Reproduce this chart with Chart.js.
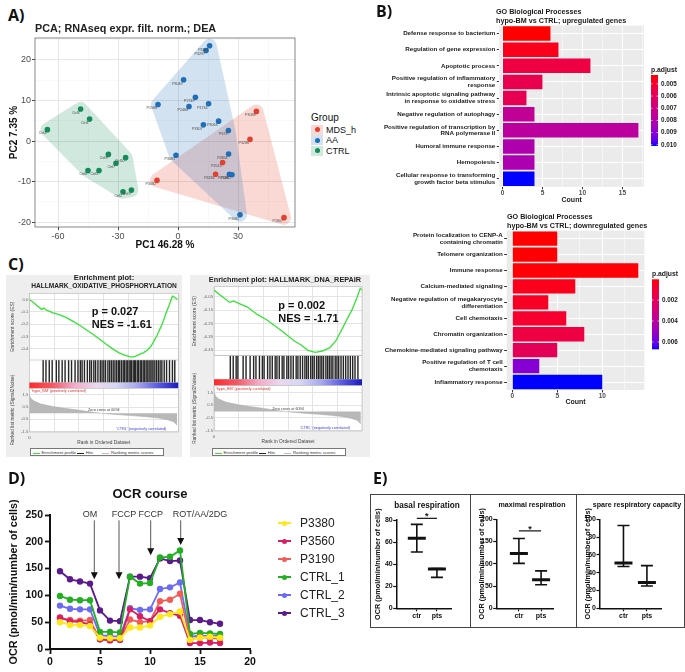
<!DOCTYPE html>
<html>
<head>
<meta charset="utf-8">
<title>hypo-BM figure</title>
<script src="https://cdn.jsdelivr.net/npm/chart.js@4.4.1/dist/chart.umd.min.js"></script>
<style>
  body { margin:0; width:685px; height:672px; position:relative; overflow:hidden; background:#fff; font-family:"Liberation Sans", Arial, sans-serif; color:#111; }
  canvas, .t, .box { position:absolute; }
  .t { white-space:nowrap; }
  .tag { font-family:"Open Sans", sans-serif; font-weight:bold; font-size:16px; line-height:20px; color:#111; }
  .gotitle { font-size:7.2px; font-weight:bold; line-height:9px; color:#1a1a1a; }
  .key { position:absolute; width:12px; height:10px; }
  .key i { position:absolute; left:3.5px; top:2.5px; width:5px; height:5px; border-radius:50%; }
  .gbox { position:absolute; background:#eeeeee; }
  .gtitle { font-weight:bold; color:#222; text-align:center; }
  .stat { font-size:11px; font-weight:bold; line-height:13px; color:#111; }
  .glegend { position:absolute; height:8px; border:0.6px solid #777; background:#fff; font-size:4.3px; line-height:7px; color:#333; padding-left:2px; box-sizing:border-box; white-space:nowrap; }
  .glegend b { display:inline-block; width:7px; height:0.8px; vertical-align:middle; margin-right:1.5px; }
  .etitle { font-weight:bold; color:#111; text-align:center; }
</style>
</head>
<body>

<!-- A -->
<canvas id="pca" width="300" height="222" style="left:0;top:30px"></canvas>
<div class="t tag" style="left:8px;top:5px">A)</div>
<div class="t" style="left:35px;top:22px;font-size:10.8px;font-weight:bold;line-height:12px;color:#222">PCA; RNAseq expr. filt. norm.; DEA</div>
<div class="t" style="left:311px;top:112px;font-size:10px;line-height:12px">Group</div>
<div class="key" style="left:311px;top:124.5px;background:rgba(228,64,46,.2)"><i style="background:#e4402e"></i></div>
<div class="t" style="left:326px;top:124.5px;font-size:9px;line-height:10px">MDS_h</div>
<div class="key" style="left:311px;top:135px;background:rgba(31,111,184,.2)"><i style="background:#1f6fb8"></i></div>
<div class="t" style="left:326px;top:135px;font-size:9px;line-height:10px">AA</div>
<div class="key" style="left:311px;top:145.5px;background:rgba(21,138,90,.2)"><i style="background:#158a5a"></i></div>
<div class="t" style="left:326px;top:145.5px;font-size:9px;line-height:10px">CTRL</div>

<!-- B -->
<canvas id="goUp" width="340" height="203" style="left:345px;top:5px"></canvas>
<canvas id="goDown" width="340" height="200" style="left:345px;top:210px"></canvas>
<div class="t tag" style="left:376px;top:1px">B)</div>
<div class="t gotitle" style="left:496px;top:6.5px">GO Biological Processes<br>hypo-BM vs CTRL; upregulated genes</div>
<div class="t gotitle" style="left:507px;top:211.5px">GO Biological Processes<br>hypo-BM vs CTRL; downregulated genes</div>

<!-- C -->
<div class="gbox" style="left:6px;top:275px;width:176px;height:182px"></div>
<div class="gbox" style="left:190px;top:275px;width:180px;height:182px"></div>
<canvas id="esOx" width="176" height="76" style="left:6px;top:288px"></canvas>
<canvas id="hitOx" width="176" height="29" style="left:6px;top:360px"></canvas>
<canvas id="metOx" width="176" height="76" style="left:6px;top:370px"></canvas>
<canvas id="esDna" width="180" height="78" style="left:190px;top:282px"></canvas>
<canvas id="hitDna" width="180" height="31" style="left:190px;top:355px"></canvas>
<canvas id="metDna" width="180" height="78" style="left:190px;top:368px"></canvas>
<div class="t tag" style="left:8px;top:254px">C)</div>
<div class="t gtitle" style="left:29px;top:274px;width:150px;font-size:7.6px;line-height:8.4px">Enrichment plot:<br><span style="font-size:6.6px">HALLMARK_OXIDATIVE_PHOSPHORYLATION</span></div>
<div class="t gtitle" style="left:200px;top:274.5px;width:170px;font-size:7.3px;line-height:9px">Enrichment plot: HALLMARK_DNA_REPAIR</div>
<div class="t stat" style="left:91.7px;top:305px">p = 0.027<br>NES = -1.61</div>
<div class="t stat" style="left:278.3px;top:299.4px;line-height:12.6px">p = 0.002<br>NES = -1.71</div>
<div class="glegend" style="left:30px;top:448.3px;width:134px"><b style="background:#36e336"></b>Enrichment profile <b style="background:#222"></b>Hits <b style="background:#bbb;margin-left:8px"></b>Ranking metric scores</div>
<div class="glegend" style="left:212px;top:448.3px;width:134px"><b style="background:#36e336"></b>Enrichment profile <b style="background:#222"></b>Hits <b style="background:#bbb;margin-left:8px"></b>Ranking metric scores</div>

<!-- D -->
<canvas id="ocr" width="270" height="182" style="left:0;top:490px"></canvas>
<div class="t tag" style="left:8px;top:468px">D)</div>
<div class="t" style="left:100px;top:486px;width:100px;text-align:center;font-size:13px;font-weight:bold;line-height:16px">OCR course</div>
<div id="ocrLegend"></div>

<!-- E -->
<div class="box" style="left:370px;top:494px;width:313px;height:132px;border:1px solid #444"></div>
<div class="box" style="left:470px;top:494px;width:1px;height:134px;background:#444"></div>
<div class="box" style="left:576px;top:494px;width:1px;height:134px;background:#444"></div>
<canvas id="basal" width="99" height="131" style="left:371px;top:495px"></canvas>
<canvas id="maximal" width="104" height="131" style="left:472px;top:495px"></canvas>
<canvas id="spare" width="106" height="131" style="left:578px;top:495px"></canvas>
<div class="t tag" style="left:373px;top:468px">E)</div>
<div class="t etitle" style="left:386px;top:501px;width:82px;font-size:8.2px;line-height:10px">basal respiration</div>
<div class="t etitle" style="left:487px;top:500px;width:90px;font-size:7.1px;line-height:10px">maximal respiration</div>
<div class="t etitle" style="left:590px;top:500px;width:94px;font-size:7.1px;line-height:10px">spare respiratory capacity</div>

<script>
// ---------- A) PCA ----------
const pcaXTicks = [-60, -30, 0, 30];
const pcaYTicks = [-20, -10, 0, 10, 20];
const mdsNames = ['P3088', 'P3286', 'P2513', 'P3336', 'P3082', 'P1807'];
const mdsPC1 = [39.2, 36, 22.3, 18.8, -10.5, 53];
const mdsPC2 = [7.3, 0.4, -5.3, -8.2, -9.7, -18.9];
const aaNames = ['P3301', 'P3297', 'P3049', 'P1588', 'P2749', 'P2468', 'P1733', 'P3063', 'P3307', 'P673', 'P3083', 'P2864', 'P2186', 'P1861', 'P3081'];
const aaPC1 = [15.8, 14, 2.8, -10, 8.7, 5.5, 15.3, 20.3, 12.7, 25.2, -1, 25.3, 25.7, 27, 31];
const aaPC2 = [23.5, 22.3, 15.1, 9.0, 10.8, 8.5, 9.2, 4.9, 4.0, 2.6, -3.5, -3.2, -8.2, -8.3, -18.2];
const ctrlNames = ['Ctrl4', 'Ctrl3', 'Ctrl1', 'Ctrl8', 'Ctrl10', 'Ctrl7', 'Ctrl6', 'Ctrl5', 'Ctrl2', 'Ctrl9'];
const ctrlPC1 = [-65.3, -48.7, -44.2, -34.8, -26.2, -31, -45, -39.5, -27.5, -23.3];
const ctrlPC2 = [2.8, 7.9, 5.4, -3.3, -4.1, -5.5, -7.3, -7.3, -12.5, -12.1];

// ---------- B) GO enrichment ----------
const countTicks = [0, 5, 10, 15];
const upTerms = [
  'Defense response to bacterium',
  'Regulation of gene expression',
  'Apoptotic process',
  ['Positive regulation of inflammatory', 'response'],
  ['Intrinsic apoptotic signaling pathway', 'in response to oxidative stress'],
  'Negative regulation of autophagy',
  ['Positive regulation of transcription by', 'RNA polymerase II'],
  'Humoral immune response',
  'Hemopoiesis',
  ['Cellular response to transforming', 'growth factor beta stimulus']
];
const upCount = [6, 7, 11, 5, 3, 4, 17, 4, 4, 4];
const upPadj = [0.00427, 0.0046, 0.0054, 0.0057, 0.0058, 0.0075, 0.0077, 0.0081, 0.0082, 0.0101];
const upPadjTicks = [0.005, 0.006, 0.007, 0.008, 0.009, 0.010];
const downTerms = [
  ['Protein localization to CENP-A', 'containing chromatin'],
  'Telomere organization',
  'Immune response',
  'Calcium-mediated signaling',
  ['Negative regulation of megakaryocyte', 'differentiation'],
  'Cell chemotaxis',
  'Chromatin organization',
  'Chemokine-mediated signaling pathway',
  ['Positive regulation of T cell', 'chemotaxis'],
  'Inflammatory response'
];
const downCount = [5, 5, 14, 7, 4, 6, 8, 5, 3, 10];
const downPadj = [0.00002, 0.00004, 0.00008, 0.0004, 0.0006, 0.0008, 0.0013, 0.0019, 0.0055, 0.0067];
const downPadjTicks = [0.002, 0.004, 0.006];

// ---------- C) GSEA ----------
const rankMax = 12700;
const oxRank = [0, 300, 620, 1050, 1250, 1470, 2030, 2600, 3170, 3700, 4300, 4850, 5420, 6000, 6560, 7100, 7690, 8200, 8680, 9050, 9380, 9750, 10090, 10400, 10650, 10900, 11080, 11300, 11500, 11700, 11920, 12080, 12200, 12430, 12630];
const oxES = [0, -0.02, -0.046, -0.08, -0.07, -0.087, -0.109, -0.125, -0.147, -0.175, -0.209, -0.245, -0.282, -0.322, -0.363, -0.40, -0.434, -0.452, -0.466, -0.46, -0.445, -0.43, -0.407, -0.375, -0.331, -0.29, -0.25, -0.205, -0.154, -0.10, -0.046, -0.005, 0.027, 0.016, 0];
const oxHits = [1180, 1420, 1700, 1950, 2300, 2520, 2800, 3050, 3350, 3600, 3900, 4150, 4350, 4500, 4700, 4950, 5150, 5300, 5500, 5650, 5850, 6050, 6200, 6350, 6500, 6700, 6850, 7000, 7150, 7300, 7450, 7600, 7700, 7850, 8000, 8100, 8250, 8350, 8500, 8600, 8700, 8850, 8950, 9050, 9200, 9300, 9450, 9550, 9700, 9800, 9950, 10050, 10200, 10300, 10450, 10550, 10700, 10850, 11000, 11150, 11300, 11500, 11700, 11950, 12200, 12400];
const dnaRank = [0, 520, 1100, 1330, 1680, 2115, 2840, 3710, 4580, 5740, 6900, 7480, 8060, 8700, 9300, 9940, 10450, 11000, 11400, 11830, 12260, 12550, 12700];
const dnaES = [0, -0.0375, -0.075, -0.092, -0.082, -0.1, -0.125, -0.182, -0.225, -0.30, -0.38, -0.41, -0.45, -0.465, -0.455, -0.43, -0.38, -0.29, -0.22, -0.15, -0.06, 0.0125, 0];
const dnaHits = [1400, 1650, 1900, 2050, 2500, 2750, 3100, 3400, 3600, 3900, 4150, 4300, 4600, 4800, 5000, 5250, 5400, 5600, 5850, 6000, 6250, 6400, 6600, 6800, 7050, 7200, 7400, 7600, 7800, 7950, 8100, 8300, 8450, 8600, 8800, 8950, 9100, 9250, 9400, 9600, 9750, 9900, 10050, 10200, 10400, 10550, 10700, 10900, 11100, 11300, 11500, 11700, 11900, 12100, 12350];
const metricRank = [0, 150, 400, 1000, 2000, 3000, 4000, 5000, 6094, 7000, 8000, 9000, 10000, 11000, 11800, 12300, 12600];
const metricVal = [1.5, 1.2, 1.0, 0.75, 0.55, 0.4, 0.28, 0.14, 0, -0.08, -0.15, -0.22, -0.3, -0.4, -0.55, -0.7, -1.0];
const rankTicks = [0, 2000, 4000, 6000, 8000, 10000, 12000];

// ---------- D) OCR course ----------
const ocrTime = [1, 2, 3, 4, 5, 6, 7, 8, 9, 10, 11, 12, 13, 14, 15, 16, 17];
const ocrNames = ['P3380', 'P3560', 'P3190', 'CTRL_1', 'CTRL_2', 'CTRL_3'];
const p3380 = [50, 45, 45, 43, 21, 20, 20, 40, 40, 44, 60, 65, 70, 17, 21, 23, 21];
const p3560 = [59, 52, 50, 46, 18, 16, 17, 74, 61, 52, 74, 67, 62, 11, 11, 12, 11];
const p3190 = [58, 54, 53, 54, 18, 17, 18, 55, 50, 52, 89, 92, 103, 17, 22, 21, 19];
const ctrl1 = [99, 92, 91, 91, 32, 32, 31, 135, 122, 123, 171, 172, 184, 28, 30, 29, 28];
const ctrl2 = [81, 75, 74, 74, 26, 24, 23, 76, 73, 74, 112, 115, 124, 23, 25, 24, 25];
const ctrl3 = [145, 130, 126, 122, 72, 53, 52, 135, 135, 132, 169, 164, 165, 54, 54, 50, 47];
const injLabels = ['OM', 'FCCP', 'FCCP', 'ROT/AA/2DG'];
const injX = [4.43, 6.9, 10.07, 13.07];
const injTip = [130, 130, 175, 194];
const injLabelX = [4.0, 7.4, 10.08, 15.0];

// ---------- E) respiration summaries ----------
const respLabels = ['ctr', 'pts'];
const basalMean = [63.5, 35.5], basalLow = [51, 28], basalHigh = [76, 36];
const maxMean = [123, 64], maxLow = [101, 53], maxHigh = [157, 84];
const spareMean = [51, 29], spareLow = [47, 25], spareHigh = [93, 48];

// ---------- shared setup ----------
Chart.defaults.font.family = '"Liberation Sans", Arial, sans-serif';
Chart.defaults.color = '#333';
Chart.defaults.animation = false;
Chart.defaults.events = [];
Chart.defaults.plugins.legend.display = false;
Chart.defaults.plugins.tooltip.enabled = false;

const groupColors = ['#e4402e', '#1f6fb8', '#158a5a'];
const ocrColors = ['#ffe81a', '#d81f63', '#f25c54', '#22b022', '#6b6bf5', '#5c1a8c'];

// ggplot style red->blue gradient, interpolated in Lab
function toLab(rgb) {
  const f = c => { c /= 255; return c <= 0.04045 ? c / 12.92 : Math.pow((c + 0.055) / 1.055, 2.4); };
  const r = f(rgb[0]), g = f(rgb[1]), b = f(rgb[2]);
  const h = t => t > 0.008856 ? Math.cbrt(t) : 7.787 * t + 16 / 116;
  const X = h((0.4124 * r + 0.3576 * g + 0.1805 * b) / 0.95047);
  const Y = h(0.2126 * r + 0.7152 * g + 0.0722 * b);
  const Z = h((0.0193 * r + 0.1192 * g + 0.9505 * b) / 1.08883);
  return [116 * Y - 16, 500 * (X - Y), 200 * (Y - Z)];
}
function fromLab(L) {
  const Y0 = (L[0] + 16) / 116, X0 = L[1] / 500 + Y0, Z0 = Y0 - L[2] / 200;
  const h = t => t * t * t > 0.008856 ? t * t * t : (t - 16 / 116) / 7.787;
  const X = h(X0) * 0.95047, Y = h(Y0), Z = h(Z0) * 1.08883;
  const r = 3.2406 * X - 1.5372 * Y - 0.4986 * Z;
  const g = -0.9689 * X + 1.8758 * Y + 0.0415 * Z;
  const b = 0.0557 * X - 0.2040 * Y + 1.0570 * Z;
  const k = c => Math.round(255 * Math.min(1, Math.max(0, c <= 0.0031308 ? 12.92 * c : 1.055 * Math.pow(c, 1 / 2.4) - 0.055)));
  return 'rgb(' + k(r) + ',' + k(g) + ',' + k(b) + ')';
}
const LAB_RED = toLab([255, 0, 0]), LAB_BLUE = toLab([0, 0, 255]);
function padjColor(p, lo, hi) {
  const t = Math.min(1, Math.max(0, (p - lo) / (hi - lo)));
  return fromLab(LAB_RED.map((v, i) => v + (LAB_BLUE[i] - v) * t));
}

function convexHull(points) {
  const pts = points.slice().sort((a, b) => a[0] - b[0] || a[1] - b[1]);
  const cross = (o, a, b) => (a[0] - o[0]) * (b[1] - o[1]) - (a[1] - o[1]) * (b[0] - o[0]);
  const lower = [], upper = [];
  for (const p of pts) {
    while (lower.length >= 2 && cross(lower[lower.length - 2], lower[lower.length - 1], p) <= 0) lower.pop();
    lower.push(p);
  }
  for (let i = pts.length - 1; i >= 0; i--) {
    const p = pts[i];
    while (upper.length >= 2 && cross(upper[upper.length - 2], upper[upper.length - 1], p) <= 0) upper.pop();
    upper.push(p);
  }
  upper.pop(); lower.pop();
  return lower.concat(upper);
}

// shaded group hulls behind the PCA points
const hullPlugin = {
  id: 'hulls',
  beforeDatasetsDraw(chart) {
    const { ctx, chartArea: a } = chart;
    chart.data.datasets.forEach((ds, i) => {
      const hull = convexHull(chart.getDatasetMeta(i).data.map(p => [p.x, p.y]));
      const off = document.createElement('canvas');
      off.width = chart.width; off.height = chart.height;
      const o = off.getContext('2d');
      o.fillStyle = o.strokeStyle = ds.backgroundColor;
      o.lineWidth = 14; o.lineJoin = 'round';
      o.beginPath();
      hull.forEach((p, k) => k ? o.lineTo(p[0], p[1]) : o.moveTo(p[0], p[1]));
      o.closePath(); o.fill(); o.stroke();
      ctx.save();
      ctx.beginPath(); ctx.rect(a.left, a.top, a.width, a.height); ctx.clip();
      ctx.globalAlpha = 0.2;
      ctx.drawImage(off, 0, 0);
      ctx.restore();
    });
  }
};

const pointNames = {
  id: 'pointNames',
  afterDatasetsDraw(chart) {
    const ctx = chart.ctx;
    ctx.save();
    ctx.font = '3.6px "Liberation Sans"';
    ctx.fillStyle = '#444';
    ctx.textAlign = 'right';
    ctx.textBaseline = 'top';
    chart.data.datasets.forEach((ds, i) => {
      chart.getDatasetMeta(i).data.forEach((pt, k) => ctx.fillText(ds.data[k].name, pt.x - 1, pt.y + 2));
    });
    ctx.restore();
  }
};

const panelBorder = {
  id: 'panelBorder',
  afterDraw(chart, args, opts) {
    const { ctx, chartArea: a } = chart;
    ctx.save();
    ctx.strokeStyle = opts.color || '#444';
    ctx.lineWidth = opts.width || 0.7;
    ctx.strokeRect(a.left, a.top, a.width, a.height);
    ctx.restore();
  }
};

const panelBg = {
  id: 'panelBg',
  beforeDraw(chart, args, opts) {
    const { ctx, chartArea: a } = chart;
    ctx.save();
    ctx.fillStyle = opts.color || '#ebebeb';
    ctx.fillRect(a.left, a.top, a.width, a.height);
    ctx.restore();
  }
};

// p.adjust colour bar legend
const colorbarPlugin = {
  id: 'colorbar',
  afterDraw(chart, args, opts) {
    const ctx = chart.ctx;
    const { x, w, top, bottom, lo, hi, ticks } = opts;
    ctx.save();
    const g = ctx.createLinearGradient(0, top, 0, bottom);
    for (let i = 0; i <= 20; i++) g.addColorStop(i / 20, padjColor(lo + (hi - lo) * i / 20, lo, hi));
    ctx.fillStyle = g;
    ctx.fillRect(x, top, w, bottom - top);
    ctx.font = 'bold 6.3px "Liberation Sans"';
    ctx.textBaseline = 'middle';
    ctx.textAlign = 'left';
    ticks.forEach(t => {
      const y = top + (t - lo) / (hi - lo) * (bottom - top);
      ctx.strokeStyle = '#fff'; ctx.lineWidth = 0.6;
      ctx.beginPath(); ctx.moveTo(x, y); ctx.lineTo(x + 1.5, y); ctx.moveTo(x + w - 1.5, y); ctx.lineTo(x + w, y); ctx.stroke();
      ctx.fillStyle = '#1a1a1a';
      ctx.fillText(t.toFixed(3), x + w + 3, y);
    });
    ctx.font = 'bold 6.8px "Liberation Sans"';
    ctx.fillText('p.adjust', x, top - 5);
    ctx.restore();
  }
};

// ---------- A chart ----------
const pcaPoints = (names, xs, ys) => names.map((n, i) => ({ x: xs[i], y: ys[i], name: n }));
new Chart(document.getElementById('pca'), {
  type: 'scatter',
  data: {
    datasets: [
      { label: 'MDS_h', data: pcaPoints(mdsNames, mdsPC1, mdsPC2), backgroundColor: groupColors[0] },
      { label: 'AA', data: pcaPoints(aaNames, aaPC1, aaPC2), backgroundColor: groupColors[1] },
      { label: 'CTRL', data: pcaPoints(ctrlNames, ctrlPC1, ctrlPC2), backgroundColor: groupColors[2] }
    ]
  },
  options: {
    responsive: false,
    layout: { padding: { top: 8, right: 5, left: 0, bottom: 0 } },
    elements: { point: { radius: 2.8, borderWidth: 0 } },
    scales: {
      x: {
        min: -71.5, max: 58.5,
        ticks: { stepSize: 15, includeBounds: false, autoSkip: false, maxRotation: 0, padding: 1, font: { size: 9 }, color: '#4d4d4d',
                 callback: v => pcaXTicks.includes(v) ? v : '' },
        grid: { color: c => pcaXTicks.includes(c.tick.value) ? '#e3e3e3' : '#f2f2f2', lineWidth: c => pcaXTicks.includes(c.tick.value) ? 0.9 : 0.5,
                tickLength: 3, tickColor: c => pcaXTicks.includes(c.tick.value) ? '#333' : 'rgba(0,0,0,0)' },
        border: { display: false },
        title: { display: true, text: 'PC1 46.28 %', font: { size: 10, weight: 'bold' }, color: '#111', padding: { top: 0, bottom: 1 } },
        afterFit: s => { s.height = 25; }
      },
      y: {
        min: -21.2, max: 25.4,
        ticks: { stepSize: 5, includeBounds: false, autoSkip: false, padding: 1, font: { size: 9 }, color: '#4d4d4d',
                 callback: v => pcaYTicks.includes(v) ? v : '' },
        grid: { color: c => pcaYTicks.includes(c.tick.value) ? '#e3e3e3' : '#f2f2f2', lineWidth: c => pcaYTicks.includes(c.tick.value) ? 0.9 : 0.5,
                tickLength: 3, tickColor: c => pcaYTicks.includes(c.tick.value) ? '#333' : 'rgba(0,0,0,0)' },
        border: { display: false },
        title: { display: true, text: 'PC2 7.35 %', font: { size: 10, weight: 'bold' }, color: '#111', padding: { top: 8, bottom: 0 } },
        afterFit: s => { s.width = 35; }
      }
    },
    plugins: { panelBorder: { color: '#555', width: 0.7 } }
  },
  plugins: [hullPlugin, pointNames, panelBorder]
});

// ---------- B charts ----------
function goChart(id, terms, counts, padj, padjTicks, xMin, xMax, axisW, padTop, padRight, xHeight, bar) {
  const lo = Math.min(...padj), hi = Math.max(...padj);
  return new Chart(document.getElementById(id), {
    type: 'bar',
    data: {
      labels: terms,
      datasets: [{ data: counts, backgroundColor: padj.map(p => padjColor(p, lo, hi)), barPercentage: 0.9, categoryPercentage: 1 }]
    },
    options: {
      responsive: false,
      indexAxis: 'y',
      layout: { padding: { top: padTop, right: padRight, left: 0, bottom: 0 } },
      scales: {
        x: {
          type: 'linear', min: xMin, max: xMax, offset: false,
          ticks: { stepSize: 2.5, includeBounds: false, autoSkip: false, maxRotation: 0, padding: 0, font: { size: 6.5, weight: 'bold' }, color: '#4d4d4d',
                   callback: v => countTicks.includes(v) ? v : '' },
          grid: { color: '#fff', lineWidth: c => countTicks.includes(c.tick.value) ? 1 : 0.5, tickLength: 2.5,
                  tickColor: c => countTicks.includes(c.tick.value) ? '#333' : 'rgba(0,0,0,0)' },
          border: { display: false },
          title: { display: true, text: 'Count', font: { size: 7, weight: 'bold' }, color: '#1a1a1a', padding: { top: 0, bottom: 3.8 } },
          afterFit: s => { s.height = xHeight; }
        },
        y: {
          ticks: { autoSkip: false, padding: 1.5, font: { size: 6.2, weight: 'bold', lineHeight: 1.1 }, color: '#1a1a1a' },
          grid: { offset: false, color: '#fff', lineWidth: 1, tickLength: 2.5, tickColor: '#333' },
          border: { display: false },
          afterFit: s => { s.width = axisW; }
        }
      },
      plugins: { panelBg: { color: '#ebebeb' }, colorbar: Object.assign({ lo: lo, hi: hi, ticks: padjTicks }, bar) }
    },
    plugins: [panelBg, colorbarPlugin]
  });
}
goChart('goUp', upTerms, upCount, upPadj, upPadjTicks, -0.4, 17.7, 154.3, 20.5, 41, 21.2, { x: 306, w: 7, top: 70, bottom: 141 });
goChart('goDown', downTerms, downCount, downPadj, downPadjTicks, -0.62, 14.67, 161.7, 20.7, 40.7, 20, { x: 307, w: 7, top: 69.3, bottom: 139.3 });

// ---------- C charts ----------
const gseaFrame = {
  id: 'gseaFrame',
  beforeDraw(chart) {
    const { ctx, chartArea: a } = chart;
    ctx.save(); ctx.fillStyle = '#fff'; ctx.fillRect(a.left, a.top, a.width, a.height); ctx.restore();
  },
  afterDraw(chart) {
    const { ctx, chartArea: a } = chart;
    ctx.save(); ctx.strokeStyle = '#b5b5b5'; ctx.lineWidth = 0.6; ctx.strokeRect(a.left, a.top, a.width, a.height); ctx.restore();
  }
};
const stripPlugin = {
  id: 'strip',
  afterDraw(chart, args, opts) {
    const { ctx, chartArea: a } = chart;
    const g = ctx.createLinearGradient(a.left, 0, a.right, 0);
    g.addColorStop(0, '#ff2a2a'); g.addColorStop(0.16, '#f45a66'); g.addColorStop(0.3, '#f3a9c6');
    g.addColorStop(0.45, '#ead8ef'); g.addColorStop(0.58, '#d6d6f4'); g.addColorStop(0.72, '#a9a9ee');
    g.addColorStop(0.86, '#5d5de2'); g.addColorStop(1, '#1a1ac0');
    ctx.save(); ctx.fillStyle = g; ctx.fillRect(a.left, a.bottom, a.width, opts.h); ctx.restore();
  }
};
const metricNotes = {
  id: 'metricNotes',
  afterDatasetsDraw(chart) {
    const { ctx, chartArea: a, scales } = chart;
    ctx.save();
    ctx.font = '3.8px "Liberation Sans"';
    ctx.textBaseline = 'middle';
    ctx.fillStyle = '#e03030'; ctx.textAlign = 'left';
    ctx.fillText("'hypo_BM' (positively correlated)", a.left + 2, a.top + 3);
    ctx.fillStyle = '#444'; ctx.textAlign = 'center';
    ctx.fillText('Zero cross at 6094', (a.left + a.right) / 2, scales.y.getPixelForValue(0) - 3);
    ctx.fillStyle = '#3a3ae0'; ctx.textAlign = 'right';
    ctx.fillText("'CTRL' (negatively correlated)", a.right - 12, a.bottom - 3);
    ctx.restore();
  }
};
const fmtRank = v => String(v).replace(/\B(?=(\d{3})+(?!\d))/g, ',');

function esChart(id, ranks, es, yMin, yMax, yStep, dec, axisW, pad, titlePad) {
  return new Chart(document.getElementById(id), {
    type: 'line',
    data: { datasets: [{ data: ranks.map((r, i) => ({ x: r, y: es[i] })), borderColor: '#36e336', borderWidth: 1.3, pointRadius: 0, tension: 0 }] },
    options: {
      responsive: false,
      layout: { padding: pad },
      scales: {
        x: { type: 'linear', min: 0, max: rankMax, ticks: { display: false, stepSize: 2000 }, grid: { color: '#e4e4e4', drawTicks: false }, border: { display: false },
             afterFit: s => { s.height = 0; } },
        y: { min: yMin, max: yMax, ticks: { stepSize: yStep, includeBounds: false, padding: 1, font: { size: 4.2 }, color: '#666', callback: v => v.toFixed(dec) },
             grid: { color: '#e4e4e4', drawTicks: false }, border: { display: false },
             title: { display: true, text: 'Enrichment score (ES)', font: { size: 5 }, color: '#444', padding: { top: titlePad, bottom: 0 } },
             afterFit: s => { s.width = axisW; } }
      }
    },
    plugins: [gseaFrame]
  });
}
function hitChart(id, hits, pad, stripH) {
  return new Chart(document.getElementById(id), {
    type: 'bar',
    data: { datasets: [{ data: hits.map(r => ({ x: r, y: 1 })), backgroundColor: '#262626', barThickness: 0.75 }] },
    options: {
      responsive: false,
      layout: { padding: pad },
      scales: { x: { type: 'linear', display: false, offset: false, min: 0, max: rankMax }, y: { display: false, min: 0, max: 1 } },
      plugins: { strip: { h: stripH } }
    },
    plugins: [gseaFrame, stripPlugin]
  });
}
function metricChart(id, axisW, pad, xHeight, tickPad, titlePad, yTitlePad) {
  return new Chart(document.getElementById(id), {
    type: 'line',
    data: { datasets: [{ data: metricRank.map((r, i) => ({ x: r, y: metricVal[i] })), borderColor: '#a8a8a8', borderWidth: 0.5, backgroundColor: '#b8b8b8', fill: 'origin', pointRadius: 0 }] },
    options: {
      responsive: false,
      layout: { padding: pad },
      scales: {
        x: { type: 'linear', min: 0, max: rankMax, ticks: { stepSize: 2000, autoSkip: false, maxRotation: 0, padding: tickPad, font: { size: 4.2 }, color: '#555', callback: v => rankTicks.includes(v) ? fmtRank(v) : '' },
             grid: { color: '#e4e4e4', drawTicks: false }, border: { display: false },
             title: { display: true, text: 'Rank in Ordered Dataset', font: { size: 4.8 }, color: '#444', padding: { top: 0, bottom: titlePad } },
             afterFit: s => { s.height = xHeight; } },
        y: { min: -1.55, max: 2.05, ticks: { stepSize: 0.5, includeBounds: false, padding: 1, font: { size: 4.2 }, color: '#666', callback: v => v.toFixed(1) },
             grid: { color: '#e4e4e4', drawTicks: false }, border: { display: false },
             title: { display: true, text: 'Ranked list metric (Signal2Noise)', font: { size: 4.8 }, color: '#444', padding: { top: yTitlePad, bottom: 0 } },
             afterFit: s => { s.width = axisW; } }
      }
    },
    plugins: [gseaFrame, metricNotes]
  });
}
esChart('esOx', oxRank, oxES, -0.49, 0.05, 0.1, 1, 23.3, { top: 5.3, right: 3.7, bottom: 4, left: 0 }, 4);
hitChart('hitOx', oxHits, { top: 0, right: 3.7, bottom: 6.3, left: 23.3 }, 5.6);
metricChart('metOx', 23.3, { top: 18.3, right: 3.7, bottom: 0, left: 0 }, 14, 2.9, 0.4, 4);
esChart('esDna', dnaRank, dnaES, -0.49, 0.025, 0.05, 2, 24, { top: 4.7, right: 8, bottom: 4.3, left: 0 }, 2);
hitChart('hitDna', dnaHits, { top: 0.7, right: 8, bottom: 6.7, left: 24 }, 6.4);
metricChart('metDna', 24, { top: 17.7, right: 8, bottom: 0, left: 0 }, 15, 3.6, 1.1, 2);

// ---------- D chart ----------
const injPlugin = {
  id: 'injections',
  afterDatasetsDraw(chart) {
    const { ctx, scales: { x, y } } = chart;
    ctx.save();
    ctx.font = '9px "Liberation Sans"';
    ctx.textAlign = 'center';
    ctx.textBaseline = 'middle';
    injX.forEach((v, i) => {
      const px = x.getPixelForValue(v);
      const top = y.getPixelForValue(240), tip = y.getPixelForValue(injTip[i]);
      ctx.strokeStyle = '#555'; ctx.lineWidth = 1;
      ctx.beginPath(); ctx.moveTo(px, top); ctx.lineTo(px, tip - 6); ctx.stroke();
      ctx.fillStyle = '#111';
      ctx.beginPath(); ctx.moveTo(px - 3.5, tip - 7); ctx.lineTo(px + 3.5, tip - 7); ctx.lineTo(px, tip); ctx.closePath(); ctx.fill();
      ctx.fillStyle = '#333';
      ctx.fillText(injLabels[i], x.getPixelForValue(injLabelX[i]), y.getPixelForValue(250));
    });
    ctx.restore();
  }
};
const ocrValues = [p3380, p3560, p3190, ctrl1, ctrl2, ctrl3];
new Chart(document.getElementById('ocr'), {
  type: 'line',
  data: {
    datasets: ocrNames.map((name, i) => ({
      label: name,
      data: ocrValues[i].map((v, k) => ({ x: ocrTime[k], y: v })),
      borderColor: ocrColors[i], backgroundColor: ocrColors[i], borderWidth: 1.8, pointRadius: 2.3, tension: 0
    }))
  },
  options: {
    responsive: false,
    layout: { padding: { top: 25, right: 20, left: 0, bottom: 0 } },
    scales: {
      x: { type: 'linear', min: 0, max: 20, ticks: { stepSize: 5, padding: 2, font: { size: 10.5, weight: 'bold' }, color: '#111' },
           grid: { drawOnChartArea: false, tickLength: 5, tickWidth: 1.8, tickColor: '#111' }, border: { color: '#111', width: 2 },
           afterFit: s => { s.height = 23; } },
      y: { min: 0, max: 250, ticks: { stepSize: 50, padding: 2, font: { size: 10.5, weight: 'bold' }, color: '#111' },
           grid: { drawOnChartArea: false, tickLength: 5, tickWidth: 1.8, tickColor: '#111' }, border: { color: '#111', width: 2 },
           title: { display: true, text: 'OCR (pmol/min/number of cells)', font: { size: 10.8, weight: 'bold' }, color: '#111', padding: { top: 8, bottom: 0 } },
           afterFit: s => { s.width = 50; } }
    }
  },
  plugins: [injPlugin]
});
// legend for D
const legendBox = document.getElementById('ocrLegend');
ocrNames.forEach((name, i) => {
  const cy = 523.3 + i * 18;
  legendBox.insertAdjacentHTML('beforeend',
    '<div class="box" style="left:278px;top:' + (cy - 1) + 'px;width:13px;height:2px;background:' + ocrColors[i] + '"></div>' +
    '<div class="box" style="left:282px;top:' + (cy - 2.5) + 'px;width:5px;height:5px;border-radius:50%;background:' + ocrColors[i] + '"></div>' +
    '<div class="t" style="left:300px;top:' + (cy - 7) + 'px;font-size:12px;line-height:14px;color:#222">' + name + '</div>');
});

// ---------- E charts ----------
const sigStar = {
  id: 'sigStar',
  afterDatasetsDraw(chart, args, opts) {
    if (opts.y == null) return;
    const { ctx, scales: { x, y } } = chart;
    ctx.save();
    ctx.font = 'bold 9px "Liberation Sans"';
    ctx.fillStyle = '#111'; ctx.textAlign = 'center'; ctx.textBaseline = 'bottom';
    ctx.fillText('*', (x.getPixelForValue(1) + x.getPixelForValue(2)) / 2, y.getPixelForValue(opts.y) + 3);
    ctx.restore();
  }
};
function respChart(id, means, lows, highs, yMax, yStep, xMax, sigY, axisW, padR, padT, titlePad) {
  const datasets = [
    { type: 'line', data: [{ x: 1, y: lows[0] }, { x: 1, y: highs[0] }, { x: 1.5, y: null }, { x: 2, y: lows[1] }, { x: 2, y: highs[1] }],
      borderColor: '#111', borderWidth: 1.6, pointRadius: 0 },
    { type: 'scatter', data: [0, 1].flatMap(k => [{ x: k + 1, y: lows[k] }, { x: k + 1, y: highs[k] }]),
      pointStyle: 'line', pointRadius: 6, pointBorderWidth: 1.6, borderColor: '#111' },
    { type: 'scatter', data: means.map((m, k) => ({ x: k + 1, y: m })),
      pointStyle: 'line', pointRadius: 9, pointBorderWidth: 3, borderColor: '#111' }
  ];
  if (sigY != null) {
    datasets.push({ type: 'line', data: [{ x: 1, y: sigY }, { x: 2, y: sigY }], borderColor: '#111', borderWidth: 1.2, pointRadius: 0, clip: false });
  }
  return new Chart(document.getElementById(id), {
    type: 'scatter',
    data: { datasets: datasets },
    options: {
      responsive: false,
      layout: { padding: { top: padT, right: padR, left: 0, bottom: 0 } },
      scales: {
        x: { type: 'linear', min: 0, max: xMax, offset: false,
             afterBuildTicks: s => { s.ticks = [{ value: 1 }, { value: 2 }]; },
             ticks: { autoSkip: false, maxRotation: 0, padding: 1, font: { size: 7, weight: 'bold' }, color: '#111', callback: v => respLabels[v - 1] },
             grid: { drawOnChartArea: false, tickLength: 3, tickWidth: 1.2, tickColor: '#111' }, border: { color: '#111', width: 1.5 },
             afterFit: s => { s.height = 17.7; } },
        y: { min: 0, max: yMax, ticks: { stepSize: yStep, padding: 0.5, font: { size: 7, weight: 'bold' }, color: '#111' },
             grid: { drawOnChartArea: false, tickLength: 3.5, tickWidth: 1.2, tickColor: '#111' }, border: { color: '#111', width: 1.5 },
             title: { display: true, text: 'OCR (pmol/min/number of cells)', font: { size: 7.3, weight: 'bold' }, color: '#111', padding: { top: titlePad, bottom: 0 } },
             afterFit: s => { s.width = axisW; } }
      },
      plugins: { sigStar: { y: sigY } }
    },
    plugins: [sigStar]
  });
}
respChart('basal', basalMean, basalLow, basalHigh, 80, 20, 2.7, 81.5, 25.7, 19, 25, 3);
respChart('maximal', maxMean, maxLow, maxHigh, 200, 50, 2.55, 174, 24.7, 22.7, 24.3, 5.3);
respChart('spare', spareMean, spareLow, spareHigh, 100, 20, 2.6, null, 22, 23, 24.3, 5.3);
</script>
</body>
</html>
